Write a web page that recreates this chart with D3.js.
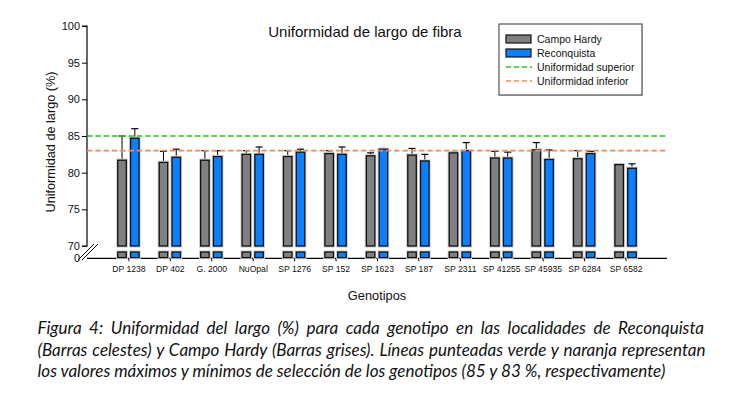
<!DOCTYPE html>
<html><head><meta charset="utf-8">
<script src="https://cdn.jsdelivr.net/npm/d3@7"></script>
<style>body{margin:0;background:#fff}svg{display:block}</style>
</head><body>
<svg id="c" width="729" height="396"></svg>
<script>
const categories = ["DP 1238","DP 402","G. 2000","NuOpal","SP 1276","SP 152","SP 1623","SP 187","SP 2311","SP 41255","SP 45935","SP 6284","SP 6582"];
const campoHardy = [81.7,81.4,81.7,82.5,82.2,82.6,82.3,82.4,82.7,82.0,83.1,81.9,81.1];
const campoHardyErr = [3.3,1.5,1.3,0.5,0.8,0.4,0.4,0.9,0.1,0.9,1.0,1.1,0.05];
const reconquista = [84.7,82.1,82.2,82.5,82.8,82.5,83.2,81.6,83.0,82.0,81.8,82.6,80.6];
const reconquistaErr = [1.3,1.1,0.8,1.0,0.4,1.0,0.1,0.9,1.1,0.8,1.3,0.3,0.6];
const yTicksUpper = [70,75,80,85,90,95,100];
const yTicksLower = [0];
const limitSup = 85, limitInf = 83;
const seriesNames = ["Campo Hardy","Reconquista"];
const lineNames = ["Uniformidad superior","Uniformidad inferior"];
const caption = [
 "Figura 4: Uniformidad del largo (%) para cada genotipo en las localidades de Reconquista",
 "(Barras celestes) y Campo Hardy (Barras grises). Líneas punteadas verde y naranja representan",
 "los valores máximos y mínimos de selección de los genotipos (85 y 83 %, respectivamente)"
];

const GRAY="#808080", BLUE="#0a80ff", GREEN="#1fc81f", ORANGE="#f68a55";
const svg = d3.select("#c");
const x0=87, x1=667;
const x = d3.scalePoint().domain(categories).range([x0,x1]).padding(1);
const y = d3.scaleLinear().domain([70,100]).range([246,26]);
const yLow = d3.scaleLinear().domain([0,70]).range([258.3,252]);
const bw=8.5, off=6.4;
const F="Arial, 'Liberation Sans', sans-serif";

// axes
const yAx = svg.append("g").attr("transform",`translate(${x0},0)`)
  .call(d3.axisLeft(y).tickValues(yTicksUpper).tickSize(5).tickPadding(2));
yAx.selectAll("text").style("font-family",F).style("font-size","11px").attr("fill","#111");
yAx.select(".domain").attr("d",`M-5,${y(100)}H0V${y(70)}H-5`).attr("stroke","#000").attr("stroke-width",1.2);
yAx.selectAll(".tick line").attr("stroke","#000");
const yAxL = svg.append("g").attr("transform",`translate(${x0},0)`)
  .call(d3.axisLeft(yLow).tickValues(yTicksLower).tickSize(0).tickPadding(7));
yAxL.selectAll("text").style("font-family",F).style("font-size","11px").attr("fill","#111");
yAxL.select(".domain").remove();

const xAx = svg.append("g").attr("transform",`translate(0,${yLow(0)})`)
  .call(d3.axisBottom(x).tickSize(3).tickPadding(5));
xAx.select(".domain").attr("d",`M${x0},0H${x1}`).attr("stroke","#000").attr("stroke-width",1.2);
xAx.selectAll("text").style("font-family",F).style("font-size","8.6px").attr("fill","#111");

// break marks
svg.append("g").attr("stroke","#000").attr("stroke-width",1)
 .selectAll("line").data([0,4]).join("line")
 .attr("x1",d=>78+d).attr("y1",260).attr("x2",d=>94+d).attr("y2",244);

// bars
const series=[{v:campoHardy,e:campoHardyErr,c:GRAY,o:-off},{v:reconquista,e:reconquistaErr,c:BLUE,o:off}];
series.forEach(s=>{
  const g=svg.append("g");
  categories.forEach((cat,i)=>{
    const cx=x(cat)+s.o;
    g.append("line").attr("x1",cx).attr("x2",cx).attr("y1",y(s.v[i])).attr("y2",y(s.v[i]+s.e[i])).attr("stroke","#000").attr("stroke-width",1);
    g.append("line").attr("x1",cx-3.5).attr("x2",cx+3.5).attr("y1",y(s.v[i]+s.e[i])).attr("y2",y(s.v[i]+s.e[i])).attr("stroke","#000").attr("stroke-width",1.2);
    [[y(s.v[i]), y(70)-y(s.v[i])],[yLow(70), yLow(0)-yLow(70)-0.7]].forEach(([yy,hh])=>{
      g.append("rect").attr("x",cx-bw/2).attr("width",bw).attr("y",yy).attr("height",hh)
        .attr("fill","none").attr("stroke","#cfcfcf").attr("stroke-width",3.2);
      g.append("rect").attr("x",cx-bw/2).attr("width",bw).attr("y",yy).attr("height",hh)
        .attr("fill",s.c).attr("stroke","#111").attr("stroke-width",1.3);
    });
  });
});

// limit lines
svg.append("line").attr("x1",x0).attr("x2",x1).attr("y1",y(limitSup)).attr("y2",y(limitSup))
  .attr("stroke",GREEN).attr("stroke-width",1.6).attr("stroke-dasharray","5.5,2.8");
svg.append("line").attr("x1",x0).attr("x2",x1).attr("y1",y(limitInf)).attr("y2",y(limitInf))
  .attr("stroke",ORANGE).attr("stroke-width",1.6).attr("stroke-dasharray","5.5,2.8");

// title & axis labels
svg.append("text").attr("x",365).attr("y",37).attr("text-anchor","middle").style("font-family",F).style("font-size","15px").attr("fill","#111").text("Uniformidad de largo de fibra");
svg.append("text").attr("transform","translate(55,142) rotate(-90)").attr("text-anchor","middle").style("font-family",F).style("font-size","12.7px").attr("fill","#111").text("Uniformidad de largo (%)");
svg.append("text").attr("x",377).attr("y",300).attr("text-anchor","middle").style("font-family",F).style("font-size","12.8px").attr("fill","#111").text("Genotipos");

// legend
const lg=svg.append("g");
lg.append("rect").attr("x",500).attr("y",25).attr("width",143).attr("height",71).attr("fill","#ddd");
lg.append("rect").attr("x",499).attr("y",24).attr("width",143).attr("height",71).attr("fill","#fff").attr("stroke","#333").attr("stroke-width",1);
const rows=[{t:seriesNames[0],k:"bar",c:GRAY},{t:seriesNames[1],k:"bar",c:BLUE},{t:lineNames[0],k:"line",c:GREEN},{t:lineNames[1],k:"line",c:ORANGE}];
rows.forEach((r,i)=>{
  const cy=39+i*14;
  if(r.k==="bar") lg.append("rect").attr("x",506).attr("y",cy-4).attr("width",25).attr("height",8).attr("fill",r.c).attr("stroke","#111").attr("stroke-width",1.2);
  else lg.append("line").attr("x1",506).attr("x2",532).attr("y1",cy).attr("y2",cy).attr("stroke",r.c).attr("stroke-width",1.6).attr("stroke-dasharray","5,3");
  lg.append("text").attr("x",537).attr("y",cy+3.8).style("font-family",F).style("font-size","10.5px").attr("fill","#111").text(r.t);
});

// caption
const CF="Lato, 'Open Sans', sans-serif";
const capG=svg.append("g");
const baseY=[333.5,355.5,377];
const targets=[666.5,668,null];
const probe=capG.append("text").style("font-family",CF).style("font-style","italic").style("font-size","14px").text(caption[2]);
const w3=probe.node().getComputedTextLength();
const fs=14*628/w3; probe.remove();
caption.forEach((t,i)=>{
  const tx=capG.append("text").attr("x",37.5).attr("y",baseY[i]).style("font-family",CF).style("font-style","italic").style("font-size",fs+"px").attr("fill","#111").text(t);
  if(targets[i]){
    const w=tx.node().getComputedTextLength();
    const n=(t.match(/ /g)||[]).length;
    tx.style("word-spacing",((targets[i]-w)/n)+"px");
  }
});
</script>
</body></html>
